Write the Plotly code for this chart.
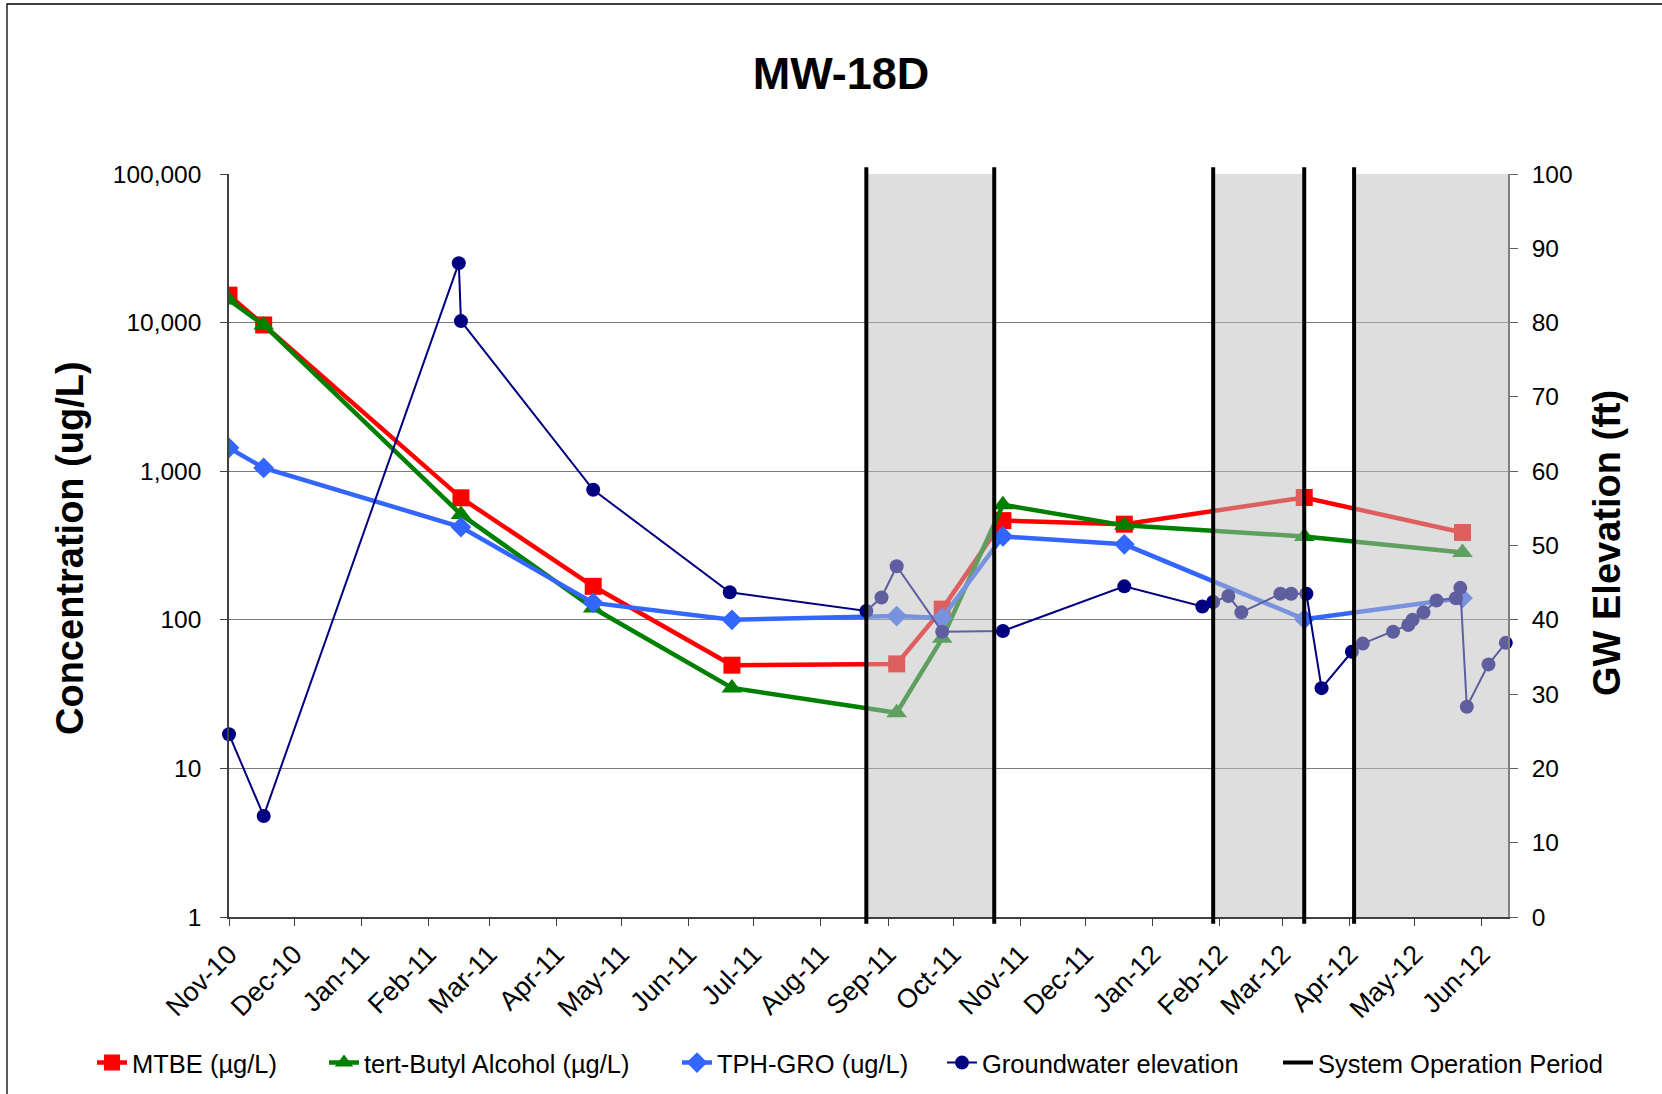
import plotly.graph_objects as go

# ---------------- data ----------------
sample_dates = ["2010-11-01", "2010-11-17", "2011-02-16", "2011-04-18", "2011-06-21",
                "2011-09-05", "2011-09-26", "2011-10-24", "2011-12-19", "2012-03-11",
                "2012-05-23"]
mtbe = [15300, 9640, 662, 168, 49.5, 50.5, 118, 465, 440, 665, 387]
tba = [14200, 9640, 512, 120, 34.8, 23.7, 75, 594, 432, 364, 284]
tph_gro = [1436, 1052, 421, 130, 100, 106, 103, 364, 322, 101, 140]

gw_dates = ["2010-11-01", "2010-11-17", "2011-02-15", "2011-02-16", "2011-04-18",
            "2011-06-20", "2011-08-22", "2011-08-29", "2011-09-05", "2011-09-26",
            "2011-10-24", "2011-12-19", "2012-01-24", "2012-01-29", "2012-02-05",
            "2012-02-11", "2012-02-29", "2012-03-05", "2012-03-12", "2012-03-19",
            "2012-04-02", "2012-04-07", "2012-04-21", "2012-04-28", "2012-04-30",
            "2012-05-05", "2012-05-11", "2012-05-20", "2012-05-22", "2012-05-25",
            "2012-06-04", "2012-06-12"]
gw_elev = [24.6, 13.6, 88.0, 80.2, 57.5,
           43.7, 41.2, 43.0, 47.2, 38.4,
           38.5, 44.5, 41.8, 42.4, 43.2,
           41.0, 43.5, 43.5, 43.5, 30.8,
           35.7, 36.8, 38.4, 39.3, 40.0,
           41.0, 42.6, 42.9, 44.3, 28.3,
           34.0, 36.9]

op_start = ["2011-08-22", "2012-01-29", "2012-04-03"]
op_end = ["2011-10-20", "2012-03-11", "2012-06-13"]

x_range = ["2010-11-01", "2012-06-13"]
conc_tickvals = [1, 10, 100, 1000, 10000, 100000]
conc_ticktext = ["1", "10", "100", "1,000", "10,000", "100,000"]
gw_tickvals = [0, 10, 20, 30, 40, 50, 60, 70, 80, 90, 100]

FONT = "Liberation Sans, Arial, sans-serif"

# ---------------- layout geometry (px) ----------------
W, H = 1662, 1094
L, R, T, B = 229, 154, 174, 177
pw = W - L - R
ph = H - T - B


def px_to_paper_x(px):
    return (px - L) / pw


def px_to_paper_y(py):
    return (H - B - py) / ph


# legend text start positions (px) for the five legend entries
legend_text_x = [132, 364, 717, 982, 1318]
legend_ids = ["legend", "legend2", "legend3", "legend4", "legend5"]

fig = go.Figure()

fig.add_trace(go.Scatter(
    x=sample_dates, y=mtbe, name="MTBE (µg/L)", mode="lines+markers",
    line=dict(color="#FF0000", width=4.5),
    marker=dict(symbol="square", size=17, color="#FF0000"),
    yaxis="y", legend=legend_ids[0]))
fig.add_trace(go.Scatter(
    x=sample_dates, y=tba, name="tert-Butyl Alcohol (µg/L)", mode="lines+markers",
    line=dict(color="#008000", width=4.5),
    marker=dict(symbol="triangle-up", size=18, color="#008000"),
    yaxis="y", legend=legend_ids[1]))
fig.add_trace(go.Scatter(
    x=sample_dates, y=tph_gro, name="TPH-GRO (ug/L)", mode="lines+markers",
    line=dict(color="#3366FF", width=4.5),
    marker=dict(symbol="diamond", size=16, color="#3366FF"),
    yaxis="y", legend=legend_ids[2]))
fig.add_trace(go.Scatter(
    x=gw_dates, y=gw_elev, name="Groundwater elevation", mode="lines+markers",
    line=dict(color="#000080", width=2),
    marker=dict(symbol="circle", size=14, color="#000080"),
    yaxis="y2", cliponaxis=False, legend=legend_ids[3]))
# legend entry for operation period
fig.add_trace(go.Scatter(
    x=[None, None], y=[None, None], name="System Operation Period", mode="lines",
    line=dict(color="#000000", width=4), yaxis="y", legend=legend_ids[4]))

shapes = []
for s, e in zip(op_start, op_end):
    shapes.append(dict(type="rect", xref="x", yref="paper", x0=s, x1=e, y0=0, y1=1,
                       fillcolor="rgba(190,190,190,0.5)", line=dict(width=0),
                       layer="above"))
line_dates = [op_start[0], op_end[0], op_start[1], op_end[1], op_start[2]]
for d in line_dates:
    shapes.append(dict(type="line", xref="x", yref="paper", x0=d, x1=d,
                       y0=-0.009, y1=1.009, line=dict(color="#000000", width=4),
                       layer="above"))
# outer chart border
shapes.append(dict(type="rect", xref="paper", yref="paper",
                   x0=px_to_paper_x(7), x1=px_to_paper_x(1700),
                   y0=px_to_paper_y(1120), y1=px_to_paper_y(4),
                   line=dict(color="#000000", width=1.3), fillcolor="rgba(0,0,0,0)",
                   layer="below"))

annotations = [
    dict(text="<b>Concentration (ug/L)</b>", xref="paper", yref="paper",
         x=px_to_paper_x(70), y=px_to_paper_y(548), textangle=-90,
         showarrow=False, xanchor="center", yanchor="middle",
         font=dict(family=FONT, size=38, color="#000000")),
    dict(text="<b>GW Elevation (ft)</b>", xref="paper", yref="paper",
         x=px_to_paper_x(1607), y=px_to_paper_y(543), textangle=-90,
         showarrow=False, xanchor="center", yanchor="middle",
         font=dict(family=FONT, size=38, color="#000000")),
]

legend_layouts = {}
for lid, tx in zip(legend_ids, legend_text_x):
    legend_layouts[lid] = dict(
        orientation="h", x=px_to_paper_x(tx - 40), xanchor="left",
        y=px_to_paper_y(1063), yanchor="middle",
        font=dict(family=FONT, size=25.5, color="#000000"),
        bgcolor="rgba(0,0,0,0)", borderwidth=0)

fig.update_layout(
    template="none",
    width=W, height=H,
    margin=dict(l=L, r=R, t=T, b=B, pad=0, autoexpand=False),
    paper_bgcolor="#FFFFFF", plot_bgcolor="#FFFFFF",
    font=dict(family=FONT, size=24, color="#000000"),
    title=dict(text="<b>MW-18D</b>", x=841 / W, xanchor="center",
               y=1 - 73 / H, yanchor="middle",
               font=dict(family=FONT, size=45, color="#000000")),
    xaxis=dict(type="date", range=x_range, dtick="M1", tick0="2010-11-01",
               tickformat="%b-%y", tickangle=-45, ticks="outside", ticklen=7,
               tickwidth=1.3, tickcolor="#404040", showgrid=False, automargin=False,
               ticklabelstandoff=2,
               showline=True, linecolor="#404040", linewidth=1.5,
               tickfont=dict(family=FONT, size=27, color="#000000"), zeroline=False),
    yaxis=dict(type="log", range=[0, 5], tickvals=conc_tickvals, ticktext=conc_ticktext,
               ticks="outside", ticklen=7, tickwidth=1.3, tickcolor="#404040",
               ticklabelstandoff=14,
               showline=True, linecolor="#404040", linewidth=1.5, automargin=False,
               showgrid=True, gridcolor="#7a7a7a", gridwidth=1.3,
               tickfont=dict(family=FONT, size=24.5, color="#000000"), zeroline=False),
    yaxis2=dict(overlaying="y", side="right", range=[0, 100], tickvals=gw_tickvals,
                ticks="outside", ticklen=8, tickwidth=1.3, tickcolor="#606060",
                ticklabelstandoff=9,
                showline=True, linecolor="#808080", linewidth=1.5, showgrid=False,
                automargin=False,
                tickfont=dict(family=FONT, size=24.5, color="#000000"), zeroline=False),
    shapes=shapes,
    annotations=annotations,
    showlegend=True,
    **legend_layouts,
)

fig.write_html("out.html",
               config={"displayModeBar": False},
               post_script="document.body.style.margin='0';"
                           "document.body.style.overflow='hidden';")
